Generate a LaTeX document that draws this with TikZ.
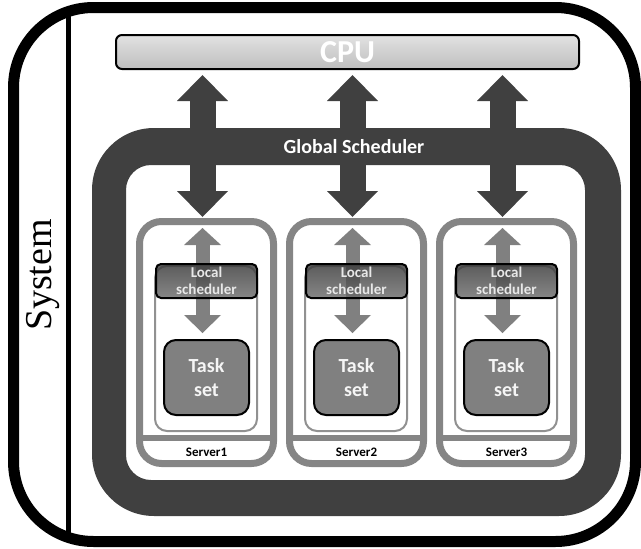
\documentclass[tikz,border=0pt]{standalone}
\usepackage{fontspec}
\newfontfamily\carl{Carlito}
\newfontfamily\sysfont{Liberation Serif}
\usetikzlibrary{arrows.meta,shapes.misc}
\definecolor{dkgray}{HTML}{404040}
\definecolor{midgray}{HTML}{808080}
\definecolor{srvgray}{HTML}{858585}
\definecolor{cputop}{HTML}{E2E2E2}
\definecolor{cpubot}{HTML}{BEBEBE}
\definecolor{lstop}{HTML}{383838}
\definecolor{lsbot}{HTML}{6C6C6C}
\tikzset{
  cpubox/.style={draw=black, line width=2pt, rounded corners=6pt, top color=cputop, bottom color=cpubot,
    minimum width=463pt, minimum height=34pt, inner sep=0pt, text=white, font=\carl\bfseries\fontsize{32}{32}\selectfont},
  serverbox/.style={draw=srvgray, fill=white, line width=7pt, rounded corners=22pt,
    minimum width=134pt, minimum height=242pt, inner sep=0pt},
  innerbox/.style={draw=srvgray!90, line width=2pt, rounded corners=12pt},
  localbox/.style={draw=black, line width=2pt, rounded corners=5pt, top color=lstop, bottom color=lsbot,
    fill opacity=0.82, text opacity=1, minimum width=101pt, minimum height=34pt, inner sep=0pt, align=center,
    text={rgb,255:red,232;green,232;blue,232}, font=\carl\bfseries\fontsize{15}{17}\selectfont},
  taskbox/.style={draw=black, line width=2pt, rounded corners=12pt, fill=midgray,
    minimum width=85pt, minimum height=75pt, inner sep=0pt, align=center,
    text={rgb,255:red,245;green,245;blue,245}, font=\carl\bfseries\fontsize{20}{24}\selectfont},
  darrow/.style={draw=dkgray, line width=26pt,
    {Triangle[width=51pt,length=26pt,line width=0pt]}-{Triangle[width=51pt,length=26pt,line width=0pt]}},
  garrow/.style={draw=midgray, line width=14pt,
    {Triangle[width=37pt,length=17pt,line width=0pt]}-{Triangle[width=37pt,length=18pt,line width=0pt]}},
  srvlabel/.style={font=\carl\bfseries\fontsize{13}{13}\selectfont, text=black, inner sep=0pt},
}
\begin{document}
\begin{tikzpicture}[x=1pt,y=-1pt]
\useasboundingbox (0,0) rectangle (641,549);
% outer system frame
\draw[line width=11pt, rounded corners=80pt] (13.5,7.5) rectangle (635.5,541.5);
\draw[line width=5pt] (68.5,7.5) -- (68.5,541.5);
\node[rotate=90, anchor=base, inner sep=0pt, font=\sysfont\fontsize{38}{38}\selectfont] (sys) at (51.5,275) {System};
% CPU
\node[cpubox] (cpu) at (347.5,52) {CPU};
% global scheduler band
\fill[dkgray, even odd rule] [rounded corners=62pt] (92,128) rectangle (621,516)
  [rounded corners=25pt] (126,165) rectangle (585,480);
\foreach \i/\cx/\ax in {1/206.5/202.5, 2/356.5/352.5, 3/506.5/502.5}{
  \node[serverbox] (srv\i) at (\cx,342.5) {};
  \draw[srvgray, line width=6pt] (\cx-67,438) -- (\cx+67,438);
  \node[srvlabel] (lab\i) at (\cx,452) {Server\i};
  \draw[innerbox] (\cx-51.5,266) rectangle (\cx+50.5,431);
  \coordinate (dt\i) at (\ax,75);
  \coordinate (db\i) at (\ax,217);
  \draw[darrow] (dt\i) -- (db\i);
  \coordinate (gt\i) at (\ax,228);
  \coordinate (gb\i) at (\ax,333);
  \draw[garrow] (gt\i) -- (gb\i);
  \node[localbox] (ls\i) at (\cx,281) {Local\\scheduler};
  \node[taskbox] (ts\i) at (\cx,377.5) {Task\\set};
}
\node[text=white, inner sep=0pt, font=\carl\bfseries\fontsize{20}{20}\selectfont] (gs) at (354,147) {Global Scheduler};
\end{tikzpicture}
\end{document}
